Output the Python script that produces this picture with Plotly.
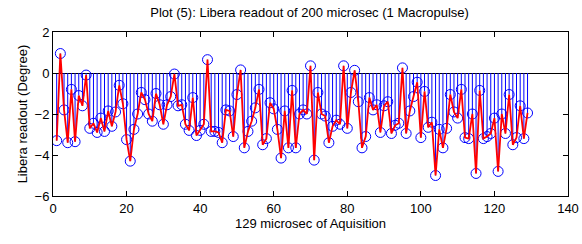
import plotly.graph_objects as go

# Sample index (1..129) and Libera readout values (degree)
sample_index = list(range(1, 130))
readout = [
    -3.3, 0.95, -1.8, -3.4, -0.8, -3.35, -1.1, -1.6, -0.1, -2.7,
    -2.45, -2.9, -2.2, -2.85, -1.85, -2.6, -1.9, -0.6, -1.5, -3.25,
    -4.3, -2.75, -2.0, -0.95, -1.3, -2.0, -2.35, -1.0, -1.55, -2.5,
    -1.55, -1.15, -0.05, -1.6, -1.55, -2.5, -2.8, -1.2, -3.05, -2.8,
    -2.5, 0.65, -2.85, -2.85, -2.9, -3.4, -1.8, -1.85, -3.1, -1.05,
    0.15, -3.65, -2.85, -2.35, -1.7, -0.8, -3.5, -3.2, -1.45, -1.75,
    -2.75, -4.15, -1.85, -3.65, -0.85, -3.65, -2.0, -1.8, -2.0, 0.35,
    -4.25, -0.95, -2.0, -2.1, -3.4, -2.6, -2.3, -2.5, 0.35, -2.7,
    -0.95, 0.13, -1.4, -3.65, -3.1, -1.2, -1.8, -1.55, -2.9, -1.6,
    -1.4, -2.95, -2.55, -2.45, 0.25, -2.95, -1.85, -1.15, -0.45, -3.15,
    -0.9, -2.65, -2.4, -5.0, -2.75, -3.65, -2.7, -1.05, -1.9, -2.2,
    -0.8, -3.15, -3.2, -2.0, -4.9, -0.85, -3.2, -3.1, -2.95, -2.2,
    -4.8, -2.0, -2.95, -1.05, -3.5, -3.15, -1.6, -3.2, -1.95,
]

x_ticks = [0, 20, 40, 60, 80, 100, 120, 140]
y_ticks = [-6, -4, -2, 0, 2]

title_text = "Plot (5): Libera readout of 200 microsec (1 Macropulse)"
x_label = "129 microsec of Aquisition"
y_label = "Libera readout (Degree)"

# stems built from the data (vertical segments from baseline to value)
stem_x, stem_y = [], []
for xi, yi in zip(sample_index, readout):
    stem_x += [xi, xi, None]
    stem_y += [0, yi, None]

FONT = "Liberation Sans, Arial, sans-serif"

fig = go.Figure()
fig.add_trace(go.Scatter(x=stem_x, y=stem_y, mode="lines",
                         line=dict(color="#0000ff", width=1),
                         hoverinfo="skip", showlegend=False))
fig.add_trace(go.Scatter(x=sample_index, y=readout, mode="markers",
                         marker=dict(symbol="circle-open", size=10,
                                     color="#0000ff", line=dict(width=1)),
                         showlegend=False))
fig.add_trace(go.Scatter(x=sample_index, y=readout, mode="lines",
                         line=dict(color="#ff0000", width=1.8),
                         showlegend=False))

fig.update_layout(
    width=582, height=244,
    margin=dict(l=53, r=14, t=32, b=48, autoexpand=False),
    paper_bgcolor="white", plot_bgcolor="white",
    font=dict(family=FONT, size=13, color="black"),
    title=dict(text=title_text, x=0.532, xanchor="center",
               y=0.95, yanchor="middle", automargin=False,
               font=dict(family=FONT, size=13, color="black")),
    xaxis=dict(range=[0, 140], tickvals=x_ticks, ticks="inside",
               ticklen=5, tickcolor="black", showline=True,
               linecolor="black", linewidth=1, mirror="ticks",
               showgrid=False, zeroline=False, automargin=False,
               title=dict(text=x_label, standoff=0,
                          font=dict(family=FONT, size=13)),
               tickfont=dict(family=FONT, size=13)),
    yaxis=dict(range=[-6, 2], tickvals=y_ticks, ticks="inside",
               ticklen=5, tickcolor="black", showline=True,
               linecolor="black", linewidth=1, mirror="ticks",
               showgrid=False, zeroline=True, zerolinecolor="black",
               zerolinewidth=1, automargin=False,
               title=dict(text=y_label, standoff=4,
                          font=dict(family=FONT, size=13)),
               tickfont=dict(family=FONT, size=13)),
)

fig.write_html("out.html",
               config={"displayModeBar": False},
               post_script="document.body.style.margin='0';document.body.style.overflow='hidden';")
